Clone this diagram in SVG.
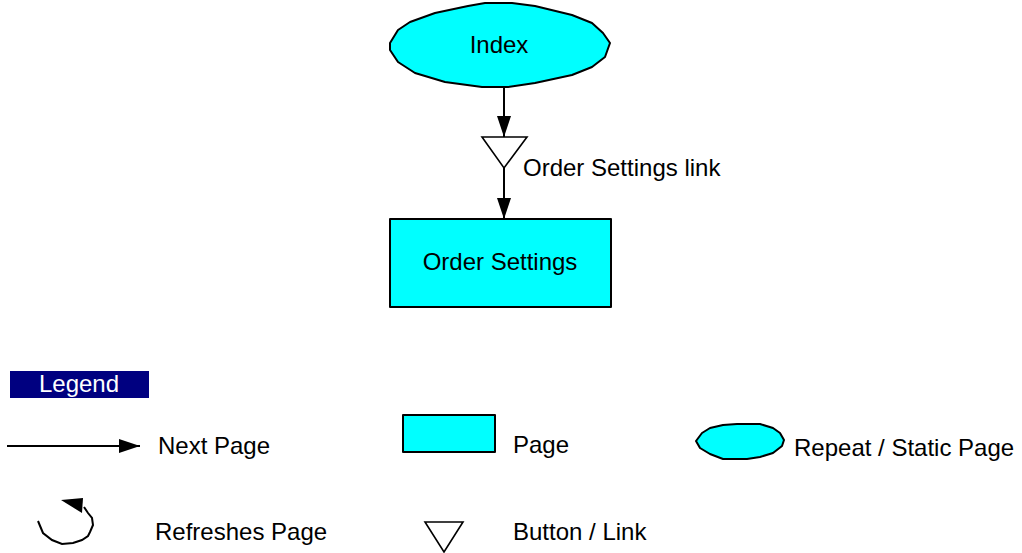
<svg xmlns="http://www.w3.org/2000/svg" width="1022" height="553" viewBox="0 0 1022 553">
<style>
text{font-family:"Liberation Sans",Arial,sans-serif;font-size:24px;fill:#000}
.shape{fill:#00ffff;stroke:#000;stroke-width:2;stroke-linejoin:round}
.btn{fill:#fff;stroke:#000;stroke-width:1.6;stroke-linejoin:miter}
.edge{stroke:#000;stroke-width:2;fill:none}
</style>
<defs>
<marker id="ah" markerUnits="userSpaceOnUse" markerWidth="22" markerHeight="14" refX="21" refY="7" orient="auto">
<path d="M0,0 L21,7 L0,14 z" fill="#000"/>
</marker>
</defs>
<rect width="1022" height="553" fill="#fff"/>
<g id="node-index">
<polygon class="shape" points="390,43 398,30 410,22 435,13 468,6 485,3 512,3 535,6 572,15 592,23 603,33 610,43 605,57 592,67 572,75 535,83 508,87 482,87 445,82 415,73 398,62 390,50"/>
<text x="499" y="53" text-anchor="middle">Index</text>
</g>
<g id="node-link">
<polygon class="btn" points="482,137 527,137 504,168"/>
<text x="523" y="176">Order Settings link</text>
</g>
<g id="node-order-settings">
<rect class="shape" x="390" y="219" width="221" height="88"/>
<text x="500" y="270" text-anchor="middle">Order Settings</text>
</g>
<g id="connectors">
<line class="edge" x1="504" y1="87" x2="504" y2="137" marker-end="url(#ah)"/>
<line class="edge" x1="504" y1="168" x2="504" y2="219" marker-end="url(#ah)"/>
</g>
<g id="legend">
<rect x="10" y="371" width="139" height="27" fill="#000080"/>
<text x="79" y="392" text-anchor="middle" style="fill:#fff">Legend</text>
<line class="edge" x1="7" y1="446" x2="140" y2="446" marker-end="url(#ah)"/>
<text x="158" y="454">Next Page</text>
<rect class="shape" x="403" y="415" width="92" height="37"/>
<text x="513" y="453">Page</text>
<polygon class="shape" points="696,441 702,433 710,428 723,425 737,424 760,424 773,428 780,433 784,440 782,446 773,453 760,457 747,459 723,459 710,454 700,448"/>
<text x="794" y="456">Repeat / Static Page</text>
<path class="edge" d="M38,521 L43,533 L52,540 L62,544 L73,543 L82,540 L88,536 L90,532 L93,525 L92,518 L88,513 L84,507"/>
<polygon points="61,500 83,498 82,513" fill="#000"/>
<text x="155" y="540">Refreshes Page</text>
<polygon class="btn" points="425,522 463,522 444,552"/>
<text x="513" y="540">Button / Link</text>
</g>
</svg>
